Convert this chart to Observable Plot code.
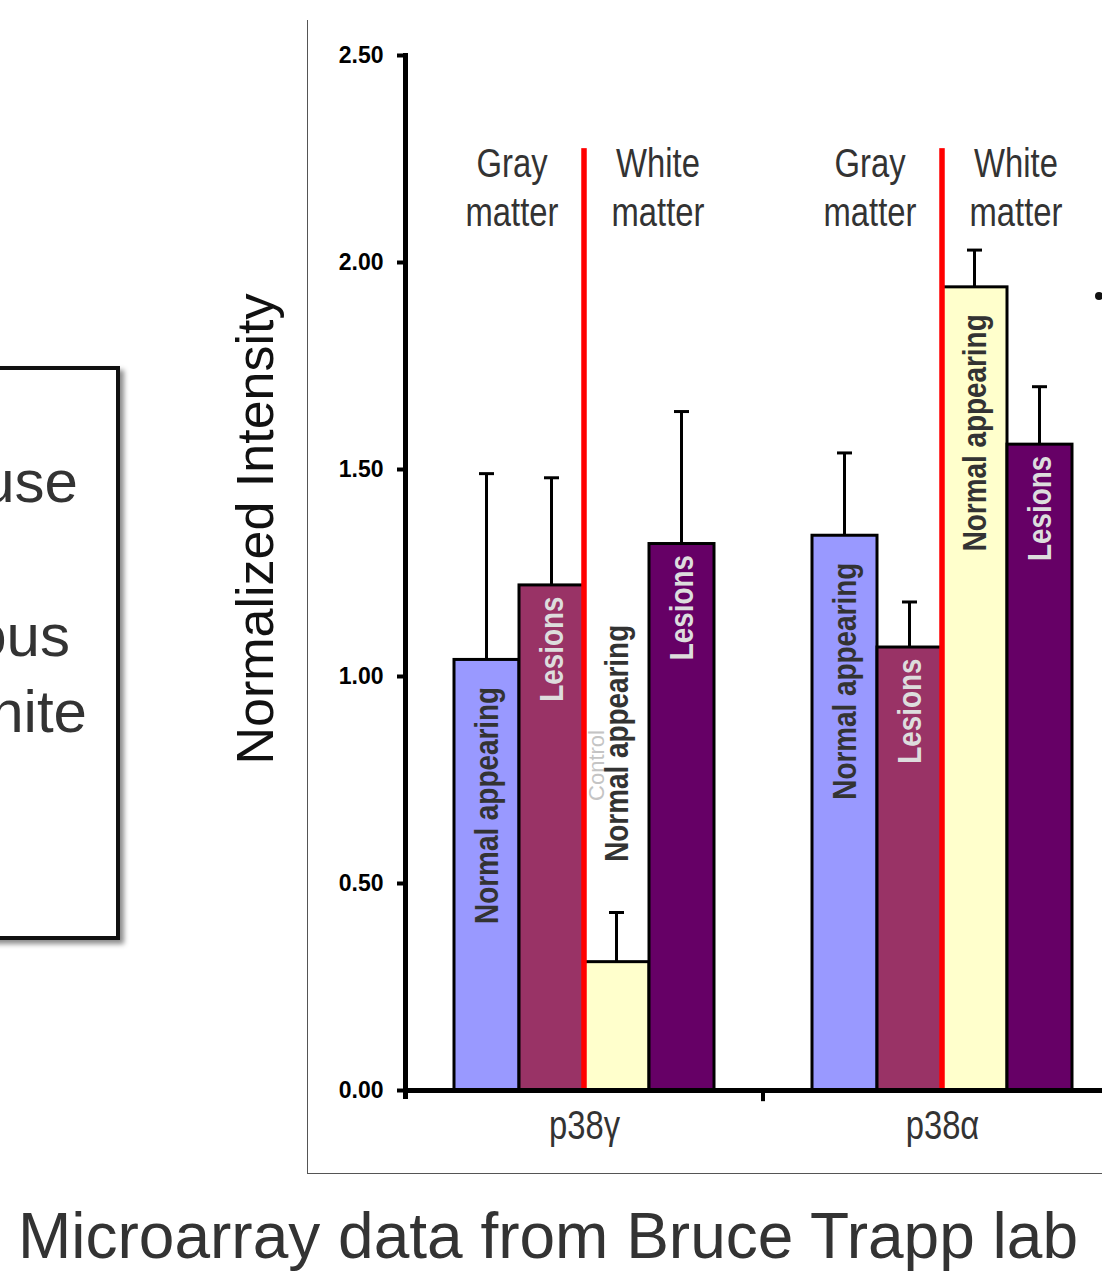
<!DOCTYPE html>
<html>
<head>
<meta charset="utf-8">
<script src="https://cdn.jsdelivr.net/npm/d3@7"></script>
<script src="https://cdn.jsdelivr.net/npm/@observablehq/plot@0.6"></script>
<style>
  html, body { margin: 0; padding: 0; background: #fff; overflow: hidden; }
  #page { position: relative; width: 1102px; height: 1277px; overflow: hidden; background: #fff;
          font-family: "Liberation Sans", Arial, sans-serif; }
  #chart { position: absolute; left: 0; top: 0; }
  #frame { position: absolute; left: 307px; top: 20px; width: 900px; height: 1153px;
           border-left: 1.5px solid #555; border-bottom: 1.5px solid #555; }
  #ytitle { position: absolute; left: -45px; top: 503px; width: 600px; height: 52px; line-height: 52px;
            font-size: 52px; text-align: center; color: #111; transform: rotate(-90deg); transform-origin: 300px 26px; white-space: nowrap; }
  #caption { position: absolute; left: 18px; top: 1204px; font-size: 64px; line-height: 64px; color: #333; white-space: nowrap; }
  #box { position: absolute; left: -20px; top: 366px; width: 132px; height: 566px; border: 4px solid #111;
         box-shadow: 4px 4px 5px rgba(0,0,0,0.45); background: #fff; }
  .boxline { position: absolute; font-size: 60px; line-height: 60px; color: #333; white-space: nowrap; text-align: right; }
  #dot { position: absolute; left: 1095px; top: 292px; width: 8px; height: 8px; border-radius: 50%; background: #111; }
</style>
</head>
<body>
<div id="page">
  <div id="frame"></div>
  <div id="box"></div>
  <div class="boxline" style="right:1024px; top:452px;">use</div>
  <div class="boxline" style="right:1032px; top:606px;">ous</div>
  <div class="boxline" style="right:1015px; top:682px;">hite</div>
  <div id="chart"></div>
  <div id="ytitle">Normalized Intensity</div>
  <div id="caption">Microarray data from Bruce Trapp lab</div>
  <div id="dot"></div>
</div>
<script>
// ---- data ----
const genes = ["p38γ", "p38α"];
const subgroups = ["gray-normal", "gray-lesions", "white-normal", "white-lesions"];
const barLabels = ["Normal appearing", "Lesions", "Normal appearing", "Lesions"];
const barColors = ["#9999FF", "#993366", "#FFFFCC", "#660066"];
const p38gammaValues = [1.04, 1.22, 0.31, 1.32];
const p38gammaErrors = [0.45, 0.26, 0.12, 0.32];
const p38alphaValues = [1.34, 1.07, 1.94, 1.56];
const p38alphaErrors = [0.20, 0.11, 0.09, 0.14];
const matterLabels = ["Gray\nmatter", "White\nmatter"];
const matterAnchors = ["gray-normal", "white-normal"];
const yTicks = [0, 0.5, 1.0, 1.5, 2.0, 2.5];
const controlLabel = "Control";

// ---- build rows ----
const valuesByGene = [p38gammaValues, p38alphaValues];
const errorsByGene = [p38gammaErrors, p38alphaErrors];
const rows = genes.flatMap((g, gi) => subgroups.map((s, si) => ({
  gene: g, sub: s, label: barLabels[si],
  value: valuesByGene[gi][si], err: errorsByGene[gi][si]
})));
const geneRows = genes.map(g => ({gene: g}));
const headerRows = genes.flatMap(g => matterLabels.map((m, i) => ({gene: g, text: m, anchor: matterAnchors[i], kind: i})));

// ---- layout constants ----
const facetW = 358, outerPad = 49, bw = (facetW - 2 * outerPad) / 4;
const narrow = "Liberation Sans, Arial Narrow, sans-serif"; // condensed afterwards
const shortBarLabelTop = 1.19; // label of a bar too short to hold its text

const plot = Plot.plot({
  width: 405 + 2 * facetW,
  height: 1277,
  marginTop: 55,
  marginBottom: 187,
  marginLeft: 405,
  marginRight: 0,
  fx: {domain: genes, padding: 0},
  x: {domain: subgroups, paddingInner: 0, paddingOuter: outerPad / bw, axis: null},
  y: {domain: [0, 2.5]},
  color: {domain: subgroups, range: barColors},
  marks: [
    // faint "Control" annotation
    Plot.text([{gene: "p38γ"}], {fx: "gene", x: () => "white-normal", y: () => 0.785, text: () => controlLabel,
      rotate: -90, dx: -20, fill: "#c4c4c4", fontSize: 22, fontFamily: "'Liberation Sans', Arial, sans-serif"}),
    // error bar stems and caps
    Plot.barY(rows, {fx: "gene", x: "sub", y1: "value", y2: d => d.value + d.err, fill: "#000",
      insetLeft: (bw - 3) / 2, insetRight: (bw - 3) / 2}),
    Plot.tickY(rows, {fx: "gene", x: "sub", y: d => d.value + d.err, stroke: "#000", strokeWidth: 3,
      insetLeft: (bw - 15) / 2, insetRight: (bw - 15) / 2}),
    // bars
    Plot.barY(rows, {fx: "gene", x: "sub", y: "value", fill: "sub", stroke: "#000", strokeWidth: 3}),
    // red separators between gray and white matter
    Plot.barY(geneRows, {fx: "gene", x: () => "white-normal", y1: () => 0, y2: () => 2.275, fill: "#FF0000",
      insetLeft: -2.75, insetRight: bw - 2.75}),
    // x axis line
    Plot.ruleY([0], {stroke: "#000", strokeWidth: 5}),
    // tick between groups
    Plot.barY([{gene: "p38α"}], {fx: "gene", x: () => "gray-normal", y1: () => 0, y2: () => -0.027, fill: "#000",
      insetLeft: -(outerPad + 2), insetRight: bw + outerPad - 2}),
    // y axis line
    Plot.frame({anchor: "left", facetAnchor: "left", stroke: "#000", strokeWidth: 5, insetBottom: -6}),
    // bar labels
    Plot.text(rows.filter(d => d.label === "Normal appearing"), {fx: "gene", x: "sub",
      y: d => d.value < 0.6 ? shortBarLabelTop : d.value, text: "label", rotate: -90, textAnchor: "end",
      dy: 27, fill: "#333", fontWeight: "bold", fontSize: 34, fontFamily: narrow}),
    Plot.text(rows.filter(d => d.label === "Lesions"), {fx: "gene", x: "sub", y: "value", text: "label",
      rotate: -90, textAnchor: "end", dy: 11, fill: "#ddd", fontWeight: "bold", fontSize: 34, fontFamily: narrow}),
    // group headers
    Plot.text(headerRows.filter(d => d.kind === 0), {fx: "gene", x: "anchor", y: () => 2.185, text: "text",
      dx: 25, lineHeight: 1.23, fill: "#333", fontSize: 40, fontFamily: narrow}),
    Plot.text(headerRows.filter(d => d.kind === 1), {fx: "gene", x: "anchor", y: () => 2.185, text: "text",
      dx: 41, lineHeight: 1.23, fill: "#333", fontSize: 40, fontFamily: narrow}),
    // axes
    Plot.axisY({ticks: yTicks, tickFormat: d3.format(".2f"), tickSize: 8, tickPadding: 14, strokeWidth: 4,
      stroke: "#000", fill: "#000", fontSize: 23, fontWeight: "bold", fontFamily: "'Liberation Sans', Arial, sans-serif", label: null}),
    Plot.axisFx({anchor: "bottom", tickSize: 0, tickPadding: 20, fill: "#333", fontSize: 40, fontFamily: narrow, label: null})
  ]
});
plot.style.maxWidth = "none";
plot.style.background = "transparent";
document.getElementById("chart").appendChild(plot);

// condense the texts set in the narrow face (Arial Narrow ≈ 82% of Arial widths),
// scaling along the reading direction about each text's own anchor
plot.querySelectorAll(`[font-family="${narrow}"] text`).forEach(t => {
  let x = parseFloat(t.getAttribute("x"));
  if (!isFinite(x) || /em/.test(t.getAttribute("x") || "")) x = 0;
  const tr = t.getAttribute("transform") || "";
  t.setAttribute("transform", `${tr} translate(${x},0) scale(0.82,1) translate(${-x},0)`);
});
</script>
</body>
</html>
